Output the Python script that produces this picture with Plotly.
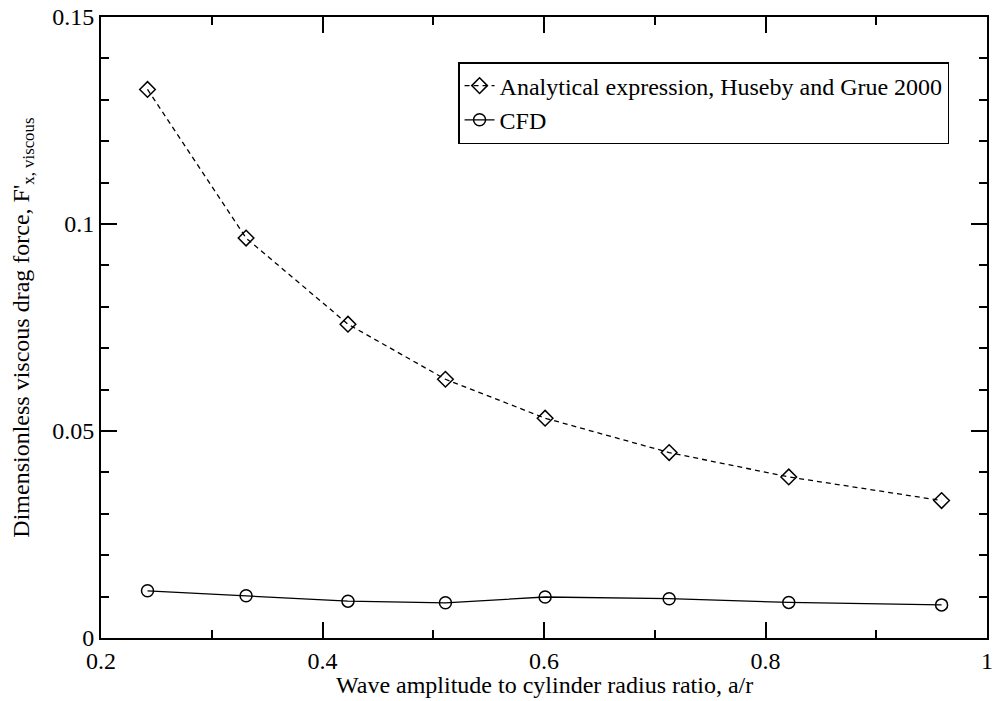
import plotly.graph_objects as go

ratio = [0.242, 0.331, 0.423, 0.511, 0.601, 0.713, 0.821, 0.959]
analytical = [0.1325, 0.0966, 0.0758, 0.0625, 0.0531, 0.0448, 0.0389, 0.0332]
cfd = [0.0114, 0.0102, 0.0089, 0.0085, 0.0099, 0.0095, 0.0086, 0.0080]

x_title = "Wave amplitude to cylinder radius ratio, a/r"
y_title = "Dimensionless viscous drag force, F'<sub>x, viscous</sub>"

FONT = "Liberation Serif"

fig = go.Figure()
fig.add_trace(go.Scatter(
    x=ratio, y=analytical, mode="lines+markers",
    name="Analytical expression, Huseby and Grue 2000",
    line=dict(color="black", width=1.3, dash="5px,4px"),
    marker=dict(symbol="diamond-open", size=12, color="black", line=dict(width=1.5)),
))
fig.add_trace(go.Scatter(
    x=ratio, y=cfd, mode="lines+markers", name="CFD",
    line=dict(color="black", width=1.3),
    marker=dict(symbol="circle-open", size=12, color="black", line=dict(width=1.5)),
))

axis_common = dict(
    showgrid=False, zeroline=False, showline=True, linecolor="black", linewidth=2,
    mirror="allticks", ticks="inside", ticklen=16, tickwidth=1.5, tickcolor="black",
    tickfont=dict(family=FONT, size=24, color="black"), automargin=False,
    ticklabeloverflow="allow",
)

fig.update_layout(
    width=995, height=701,
    margin=dict(l=101, r=8, t=17, b=63),
    paper_bgcolor="white", plot_bgcolor="white",
    font=dict(family=FONT, color="black", size=24),
    xaxis=dict(
        range=[0.2, 1.0], dtick=0.2, tick0=0.2,
        minor=dict(dtick=0.1, ticks="inside", ticklen=8, tickwidth=1.5, tickcolor="black"),
        **axis_common,
    ),
    yaxis=dict(
        range=[0, 0.15], dtick=0.05, tick0=0,
        minor=dict(dtick=0.01, ticks="inside", ticklen=8, tickwidth=1.5, tickcolor="black"),
        **axis_common,
    ),
    legend=dict(
        x=0.403, y=0.9275, xanchor="left", yanchor="top",
        bgcolor="white", bordercolor="black", borderwidth=1.5,
        font=dict(family=FONT, size=24, color="black"),
        itemwidth=30,
    ),
    showlegend=True,
    annotations=[
        dict(text=x_title, xref="paper", yref="paper", x=0.5, y=-0.076,
             xanchor="center", yanchor="middle", showarrow=False,
             font=dict(family=FONT, size=24, color="black")),
        dict(text=y_title, xref="paper", yref="paper", x=-0.089, y=0.5,
             xanchor="center", yanchor="middle", showarrow=False, textangle=-90,
             font=dict(family=FONT, size=24, color="black")),
    ],
)

fig.write_html(
    "out.html",
    config={"displayModeBar": False},
    post_script="document.body.style.margin='0';document.body.style.padding='0';",
)
